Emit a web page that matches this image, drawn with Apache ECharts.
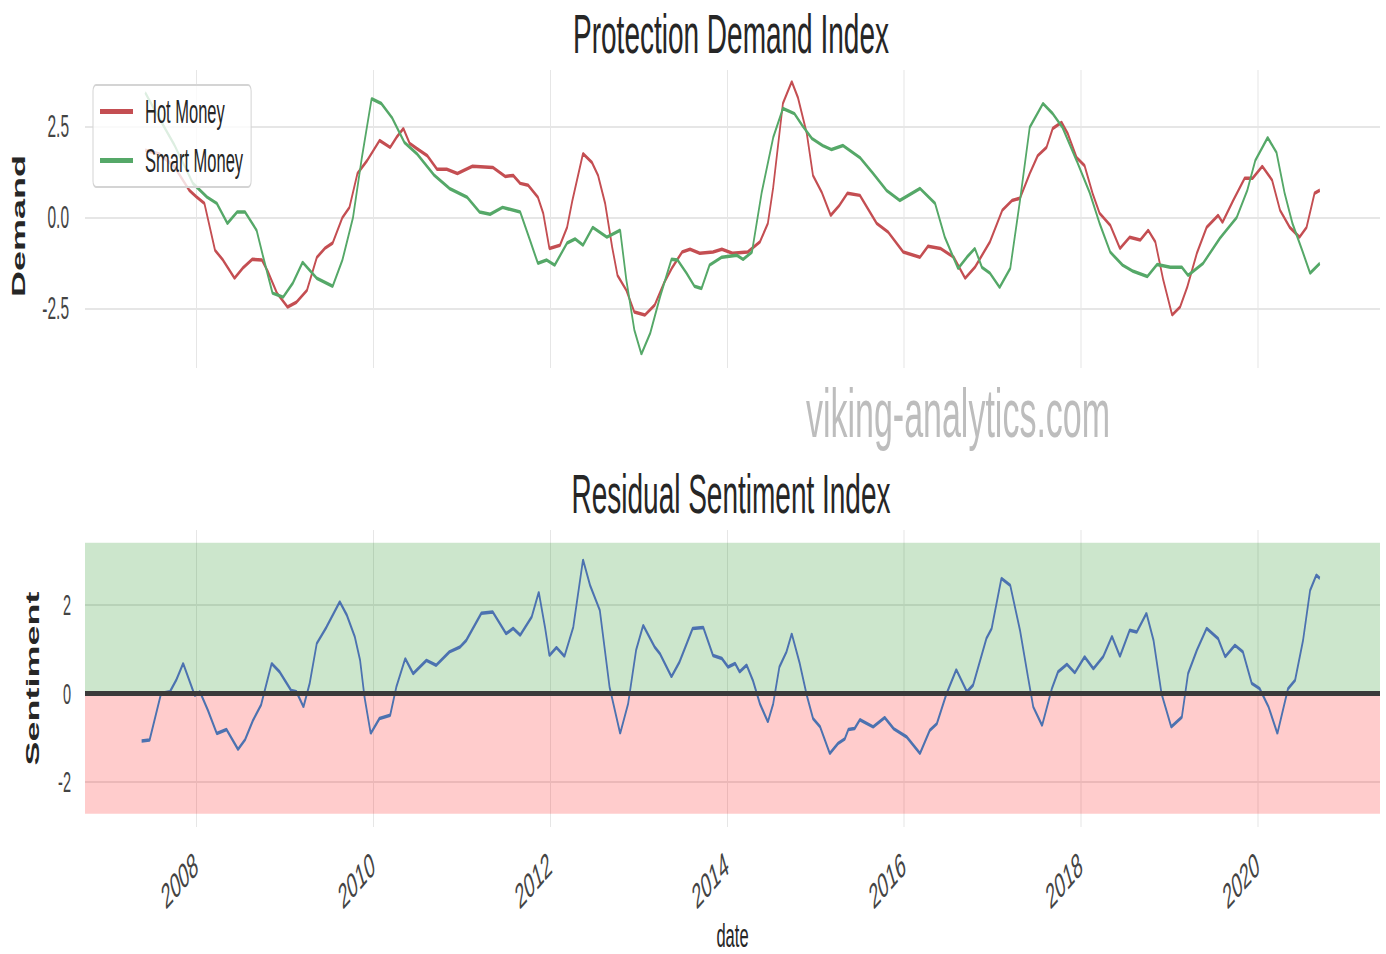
<!DOCTYPE html>
<html>
<head>
<meta charset="utf-8">
<title>Protection Demand Index</title>
<script src="https://cdn.jsdelivr.net/npm/echarts@6/dist/echarts.min.js"></script>
<style>
  html, body { margin: 0; padding: 0; background: #fff; overflow: hidden; }
  #frame { width: 1386px; height: 954px; overflow: hidden; }
  /* the picture is squeezed to half its width, so draw at double width and squeeze it */
  #chart { width: 2772px; height: 954px; transform: scaleX(0.5); transform-origin: 0 0; }
</style>
</head>
<body>
<div id="frame"><div id="chart"></div></div>
<script>
const FONT = '"Liberation Sans", Arial, sans-serif';

// tick labels
const xTicks = [2008, 2010, 2012, 2014, 2016, 2018, 2020];
const demandTicks = [-2.5, 0, 2.5];
const sentimentTicks = [-2, 0, 2];

// Hot Money (decimal years / index)
const hotDates = [
  2007.42, 2007.58, 2007.75, 2007.92, 2008.00, 2008.09, 2008.21, 2008.30, 2008.43, 2008.52,
  2008.63, 2008.74, 2008.81, 2008.91, 2009.03, 2009.13, 2009.25, 2009.36, 2009.45, 2009.54,
  2009.65, 2009.73, 2009.82, 2009.93, 2010.07, 2010.19, 2010.26, 2010.34, 2010.41, 2010.49,
  2010.61, 2010.72, 2010.83, 2010.95, 2011.12, 2011.35, 2011.49, 2011.58, 2011.66, 2011.75,
  2011.86, 2011.92, 2011.99, 2012.11, 2012.19, 2012.25, 2012.37, 2012.47, 2012.54, 2012.62,
  2012.70, 2012.76, 2012.86, 2012.95, 2013.07, 2013.18, 2013.29, 2013.38, 2013.49, 2013.58,
  2013.69, 2013.84, 2013.94, 2014.06, 2014.23, 2014.37, 2014.46, 2014.52, 2014.63, 2014.73,
  2014.80, 2014.90, 2014.97, 2015.07, 2015.17, 2015.27, 2015.36, 2015.50, 2015.69, 2015.82,
  2015.99, 2016.18, 2016.27, 2016.41, 2016.56, 2016.69, 2016.80, 2016.97, 2017.11, 2017.22,
  2017.31, 2017.42, 2017.51, 2017.61, 2017.68, 2017.78, 2017.85, 2017.95, 2018.04, 2018.13,
  2018.21, 2018.33, 2018.44, 2018.55, 2018.67, 2018.76, 2018.84, 2018.93, 2019.03, 2019.12,
  2019.20, 2019.31, 2019.42, 2019.55, 2019.60, 2019.72, 2019.85, 2019.94, 2020.05, 2020.16,
  2020.25, 2020.36, 2020.47, 2020.55, 2020.64, 2020.70
];
const hotValues = [
  1.85, 1.75, 1.4, 0.75, 0.57, 0.39, -0.9, -1.17, -1.67, -1.4,
  -1.15, -1.17, -1.5, -2.08, -2.46, -2.33, -2.0, -1.1, -0.85, -0.7,
  0.0, 0.28, 1.21, 1.57, 2.12, 1.93, 2.2, 2.45, 2.04, 1.9,
  1.7, 1.33, 1.33, 1.21, 1.41, 1.38, 1.13, 1.16, 0.94, 0.89,
  0.56, 0.12, -0.85, -0.76, -0.27, 0.47, 1.76, 1.52, 1.16, 0.39,
  -0.82, -1.59, -2.0, -2.6, -2.68, -2.41, -1.78, -1.37, -0.95, -0.87,
  -0.98, -0.95, -0.87, -0.98, -0.95, -0.67, -0.16, 0.83, 3.14, 3.74,
  3.3, 2.31, 1.16, 0.69, 0.06, 0.34, 0.67, 0.61, -0.16, -0.4,
  -0.95, -1.09, -0.79, -0.85, -1.09, -1.67, -1.37, -0.67, 0.2, 0.47,
  0.53, 1.21, 1.7, 1.93, 2.45, 2.62, 2.31, 1.65, 1.43, 0.67,
  0.12, -0.21, -0.85, -0.54, -0.62, -0.35, -0.67, -1.72, -2.68, -2.46,
  -1.92, -0.98, -0.27, 0.06, -0.13, 0.47, 1.08, 1.08, 1.41, 1.03,
  0.2, -0.27, -0.54, -0.27, 0.67, 0.75
];

// Smart Money
const smartDates = [
  2007.42, 2007.55, 2007.75, 2007.96, 2008.12, 2008.23, 2008.35, 2008.46, 2008.55, 2008.68,
  2008.75, 2008.86, 2008.98, 2009.09, 2009.20, 2009.36, 2009.54, 2009.65, 2009.77, 2009.87,
  2009.98, 2010.09, 2010.21, 2010.35, 2010.49, 2010.69, 2010.86, 2011.06, 2011.20, 2011.32,
  2011.46, 2011.66, 2011.77, 2011.86, 2011.96, 2012.05, 2012.19, 2012.28, 2012.37, 2012.48,
  2012.64, 2012.79, 2012.86, 2012.95, 2013.03, 2013.13, 2013.24, 2013.37, 2013.44, 2013.54,
  2013.63, 2013.71, 2013.80, 2013.94, 2014.11, 2014.18, 2014.28, 2014.39, 2014.52, 2014.63,
  2014.76, 2014.85, 2014.96, 2015.08, 2015.18, 2015.31, 2015.50, 2015.65, 2015.80, 2015.95,
  2016.18, 2016.35, 2016.46, 2016.61, 2016.71, 2016.80, 2016.88, 2016.97, 2017.08, 2017.20,
  2017.31, 2017.42, 2017.57, 2017.68, 2017.79, 2017.95, 2018.10, 2018.21, 2018.33, 2018.47,
  2018.59, 2018.75, 2018.86, 2019.01, 2019.14, 2019.21, 2019.38, 2019.57, 2019.76, 2019.88,
  2019.97, 2020.11, 2020.21, 2020.30, 2020.39, 2020.50, 2020.59, 2020.70
];
const smartValues = [
  3.44, 2.86, 2.0, 0.94, 0.56, 0.39, -0.16, 0.15, 0.15, -0.35,
  -1.04, -2.08, -2.19, -1.8, -1.23, -1.67, -1.89, -1.17, 0.0, 1.65,
  3.27, 3.14, 2.75, 2.07, 1.76, 1.16, 0.8, 0.56, 0.15, 0.09,
  0.28, 0.15, -0.62, -1.26, -1.17, -1.31, -0.7, -0.59, -0.76, -0.27,
  -0.54, -0.35, -1.72, -3.09, -3.76, -3.18, -2.19, -1.15, -1.17, -1.53,
  -1.89, -1.95, -1.31, -1.09, -1.04, -1.15, -0.95, 0.69, 2.2, 3.0,
  2.86, 2.53, 2.17, 1.98, 1.87, 1.98, 1.65, 1.21, 0.75, 0.47,
  0.8, 0.39, -0.54, -1.4, -1.09, -0.85, -1.37, -1.53, -1.92, -1.4,
  0.47, 2.48, 3.14, 2.86, 2.48, 1.57, 0.67, -0.16, -0.95, -1.31,
  -1.48, -1.62, -1.29, -1.37, -1.37, -1.59, -1.26, -0.57, 0.0, 0.75,
  1.57, 2.2, 1.79, 0.69, -0.16, -0.9, -1.53, -1.26
];

// Residual Sentiment
const sentDates = [
  2007.38, 2007.47, 2007.60, 2007.70, 2007.77, 2007.85, 2007.98, 2008.04, 2008.13, 2008.23,
  2008.34, 2008.47, 2008.55, 2008.64, 2008.73, 2008.85, 2008.94, 2009.07, 2009.13, 2009.21,
  2009.28, 2009.36, 2009.47, 2009.62, 2009.70, 2009.79, 2009.85, 2009.90, 2009.97, 2010.07,
  2010.19, 2010.26, 2010.36, 2010.45, 2010.60, 2010.71, 2010.86, 2010.98, 2011.05, 2011.22,
  2011.35, 2011.50, 2011.58, 2011.66, 2011.79, 2011.87, 2011.94, 2011.99, 2012.07, 2012.16,
  2012.26, 2012.37, 2012.45, 2012.56, 2012.67, 2012.79, 2012.88, 2012.97, 2013.05, 2013.18,
  2013.24, 2013.37, 2013.46, 2013.61, 2013.73, 2013.84, 2013.94, 2014.01, 2014.09, 2014.14,
  2014.22, 2014.29, 2014.37, 2014.46, 2014.52, 2014.59, 2014.67, 2014.73, 2014.82, 2014.90,
  2014.97, 2015.05, 2015.16, 2015.25, 2015.33, 2015.37, 2015.44, 2015.50, 2015.65, 2015.78,
  2015.88, 2016.03, 2016.18, 2016.29, 2016.37, 2016.48, 2016.59, 2016.71, 2016.78, 2016.93,
  2016.99, 2017.10, 2017.20, 2017.31, 2017.40, 2017.46, 2017.56, 2017.67, 2017.74, 2017.84,
  2017.93, 2018.04, 2018.14, 2018.25, 2018.35, 2018.44, 2018.55, 2018.63, 2018.74, 2018.82,
  2018.91, 2019.02, 2019.14, 2019.21, 2019.31, 2019.42, 2019.55, 2019.63, 2019.74, 2019.83,
  2019.93, 2020.02, 2020.12, 2020.22, 2020.34, 2020.42, 2020.51, 2020.59, 2020.66, 2020.70
];
const sentValues = [
  -1.07, -1.05, 0.0, 0.04, 0.3, 0.68, -0.04, 0.04, -0.38, -0.9,
  -0.81, -1.26, -1.04, -0.6, -0.26, 0.68, 0.49, 0.07, 0.04, -0.3,
  0.23, 1.13, 1.5, 2.07, 1.77, 1.28, 0.75, -0.08, -0.9, -0.56,
  -0.49, 0.15, 0.79, 0.45, 0.75, 0.64, 0.94, 1.05, 1.2, 1.81,
  1.84, 1.35, 1.47, 1.32, 1.73, 2.29, 1.5, 0.86, 1.04, 0.84,
  1.5, 3.02, 2.44, 1.88, 0.15, -0.9, -0.23, 0.98, 1.54, 1.05,
  0.9, 0.38, 0.71, 1.47, 1.49, 0.86, 0.79, 0.6, 0.68, 0.49,
  0.64, 0.3, -0.23, -0.64, -0.23, 0.6, 0.94, 1.35, 0.68, -0.04,
  -0.56, -0.75, -1.35, -1.13, -1.02, -0.81, -0.79, -0.59, -0.75, -0.54,
  -0.79, -0.98, -1.35, -0.83, -0.68, 0.0, 0.54, 0.04, 0.19, 1.24,
  1.47, 2.6, 2.44, 1.43, 0.38, -0.3, -0.72, 0.11, 0.49, 0.66,
  0.47, 0.83, 0.56, 0.83, 1.29, 0.84, 1.43, 1.39, 1.81, 1.2,
  0.0, -0.75, -0.53, 0.45, 0.98, 1.47, 1.24, 0.83, 1.09, 0.94,
  0.23, 0.11, -0.3, -0.9, 0.11, 0.3, 1.2, 2.33, 2.67, 2.6
];

const pairs = (d, v) => d.map((x, i) => [x, v[i]]);

const chart = echarts.init(document.getElementById('chart'), null, { renderer: 'svg' });

const gridLine = { show: true, lineStyle: { color: '#e6e6e6', width: 2 } };

const xAxisBase = {
  type: 'value',
  min: 2006.74,
  max: 2021.38,
  axisLine: { show: false },
  axisTick: { show: false, customValues: xTicks },
  splitLine: gridLine
};

const option = {
  backgroundColor: '#fff',
  animation: false,
  textStyle: { fontFamily: FONT },
  graphic: [
    { type: 'text', x: 1462, y: 33, style: { text: 'Protection Demand Index', font: '56px ' + FONT, fill: '#262626', textAlign: 'center', textVerticalAlign: 'middle' } },
    { type: 'text', x: 1462, y: 493, style: { text: 'Residual Sentiment Index', font: '56px ' + FONT, fill: '#262626', textAlign: 'center', textVerticalAlign: 'middle' } },
    { type: 'text', x: 1916, y: 413, z: 10, style: { text: 'viking-analytics.com', font: '68px ' + FONT, fill: '#bdbdbd', textAlign: 'center', textVerticalAlign: 'middle' } }
  ],
  legend: {
    data: ['Hot Money', 'Smart Money'],
    orient: 'vertical',
    left: 186,
    top: 85,
    icon: 'rect',
    itemWidth: 66,
    itemHeight: 5,
    itemGap: 16,
    padding: [10, 16, 10, 14],
    borderColor: '#d4d4d4',
    borderWidth: 2,
    borderRadius: 6,
    backgroundColor: 'rgba(255,255,255,0.8)',
    textStyle: { fontSize: 33, color: '#262626', padding: [0, 0, 0, 19] }
  },
  grid: [
    { left: 170, right: 12, top: 70, height: 298, containLabel: false, outerBoundsMode: 'none' },
    { left: 170, right: 12, top: 530, height: 297, containLabel: false, outerBoundsMode: 'none' }
  ],
  xAxis: [
    Object.assign({ gridIndex: 0, axisLabel: { show: false, customValues: xTicks } }, xAxisBase),
    Object.assign({
      gridIndex: 1,
      name: 'date',
      nameLocation: 'middle',
      nameGap: 92,
      nameMoveOverlap: false,
      nameTextStyle: { fontSize: 33, color: '#262626' },
      axisLabel: {
        customValues: xTicks, rotate: 30, margin: 34, fontSize: 35, color: '#444',
        formatter: v => String(Math.round(v))
      }
    }, xAxisBase)
  ],
  yAxis: [
    {
      gridIndex: 0, type: 'value', min: -4.14, max: 4.06,
      name: 'Demand', nameLocation: 'middle', nameRotate: 90, nameGap: 114,
      nameTextStyle: { fontSize: 36, fontWeight: 'bold', color: '#262626', padding: [0, 14, 0, 0] },
      axisLine: { show: false },
      axisTick: { show: false, customValues: demandTicks },
      axisLabel: { customValues: demandTicks, fontSize: 31, color: '#444', margin: 32, formatter: v => v.toFixed(1) },
      splitLine: gridLine
    },
    {
      gridIndex: 1, type: 'value', min: -3.01, max: 3.69,
      name: 'Sentiment', nameLocation: 'middle', nameRotate: 90, nameGap: 86,
      nameTextStyle: { fontSize: 36, fontWeight: 'bold', color: '#262626' },
      axisLine: { show: false },
      axisTick: { show: false, customValues: sentimentTicks },
      axisLabel: { customValues: sentimentTicks, fontSize: 29, color: '#444', margin: 28, formatter: v => String(v) },
      splitLine: gridLine
    }
  ],
  series: [
    {
      name: 'Hot Money', type: 'line', xAxisIndex: 0, yAxisIndex: 0,
      data: pairs(hotDates, hotValues),
      symbol: 'none', showSymbol: false,
      itemStyle: { color: '#c44e52' },
      lineStyle: { color: '#c44e52', width: 3.5 }
    },
    {
      name: 'Smart Money', type: 'line', xAxisIndex: 0, yAxisIndex: 0,
      data: pairs(smartDates, smartValues),
      symbol: 'none', showSymbol: false,
      itemStyle: { color: '#55a868' },
      lineStyle: { color: '#55a868', width: 3.5 }
    },
    {
      name: 'Sentiment', type: 'line', xAxisIndex: 1, yAxisIndex: 1,
      data: pairs(sentDates, sentValues),
      symbol: 'none', showSymbol: false,
      itemStyle: { color: '#4c72b0' },
      lineStyle: { color: '#4c72b0', width: 3.5 },
      markArea: {
        silent: true,
        data: [
          [{ yAxis: 0, itemStyle: { color: 'rgba(0,128,0,0.2)' } }, { yAxis: 3.4 }],
          [{ yAxis: -2.71, itemStyle: { color: 'rgba(255,0,0,0.2)' } }, { yAxis: 0 }]
        ]
      },
      markLine: {
        silent: true,
        symbol: 'none',
        label: { show: false },
        lineStyle: { color: '#3a3a3a', width: 5, type: 'solid' },
        data: [{ yAxis: 0 }]
      }
    }
  ]
};

chart.setOption(option);
</script>
</body>
</html>
